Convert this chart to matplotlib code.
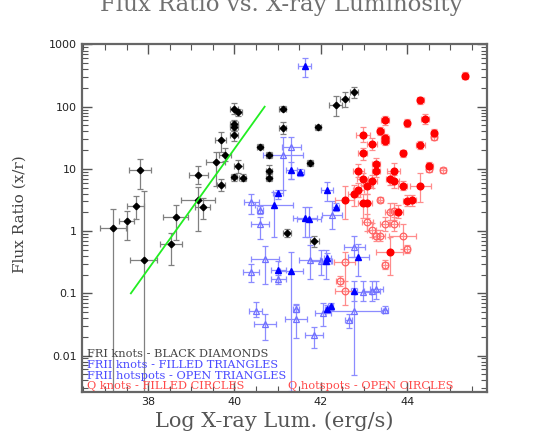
import matplotlib
matplotlib.use("Agg")
import matplotlib.pyplot as plt
import numpy as np
from matplotlib.ticker import FixedLocator, MultipleLocator, LogLocator, NullFormatter, FuncFormatter

# FRI knots (black diamonds): log Lx, ratio, x error, lower y, upper y
fri_x = [37.19, 37.50, 37.71, 37.81, 37.90, 38.53, 38.64, 39.15, 39.26, 39.16, 39.57, 39.68,
         39.78, 39.68, 39.99, 40.09, 39.99, 39.99, 39.99, 40.09, 39.99, 40.19, 40.59, 40.80,
         40.80, 40.80, 41.12, 41.12, 41.74, 41.94, 42.35, 42.55, 42.77, 41.22, 41.85]
fri_y = [1.12, 1.43, 2.55, 9.6, 0.34, 0.61, 1.68, 3.2, 2.48, 8.0, 12.8, 29.5,
         16.7, 5.6, 93, 81, 52, 48, 35, 11.3, 7.3, 7.2, 22.8, 16.6,
         9.2, 7.2, 93, 45, 12.4, 46.6, 108, 133, 170, 0.94, 0.69]
fri_xe = [0.30, 0.18, 0.19, 0.25, 0.31, 0.26, 0.29, 0.39, 0.17, 0.22, 0.22, 0.13,
          0.13, 0.09, 0.09, 0.08, 0.09, 0.09, 0.09, 0.10, 0.08, 0.08, 0.06, 0.08,
          0.08, 0.08, 0.08, 0.08, 0.07, 0.07, 0.15, 0.10, 0.10, 0.10, 0.10]
fri_lo = [0.001, 0.71, 1.58, 4.8, 0.001, 0.29, 0.73, 1.0, 1.58, 5.7, 5.4, 18.5,
          13.5, 4.4, 75, 70, 40, 40, 28, 8.5, 6.3, 6.3, 21, 15,
          7.5, 6.4, 84, 36, 11, 42, 70, 100, 140, 0.8, 0.56]
fri_hi = [2.3, 2.1, 3.7, 14.5, 4.4, 0.94, 2.64, 5.1, 3.4, 11, 18.5, 39.6,
          21.5, 7.0, 115, 92, 62, 58, 42, 14, 8.4, 8.2, 25, 18.5,
          11.5, 8.2, 102, 56, 14, 51, 147, 170, 205, 1.1, 0.84]

# FRII knots (filled triangles)
k2_x = [41.63, 41.32, 41.53, 41.01, 42.14, 40.91, 41.63, 41.73, 42.35, 41.02, 41.32, 42.13,
        42.15, 42.87, 42.15, 42.23, 42.77]
k2_y = [455, 9.7, 8.9, 4.1, 4.5, 2.6, 1.62, 1.57, 2.43, 0.233, 0.228, 0.33,
        0.37, 0.38, 0.057, 0.0625, 0.111]
k2_xe = [0.15, 0.12, 0.07, 0.11, 0.14, 0.44, 0.28, 0.28, 0.08, 0.17, 0.27, 0.10,
         0.08, 0.25, 0.06, 0.06, 0.08]
k2_lo = [305, 6.9, 7.8, 3.3, 3.0, 0.8, 0.8, 0.8, 2.1, 0.155, 0.0027, 0.17,
         0.3, 0.19, 0.05, 0.055, 0.075]
k2_hi = [600, 12.8, 10, 4.6, 6.1, 4.2, 2.45, 2.45, 2.8, 0.33, 0.47, 0.49,
         0.45, 0.63, 0.065, 0.07, 0.16]

# FRII hotspots (open triangles)
h2_x = [41.32, 41.12, 40.39, 40.60, 40.60, 42.25, 40.71, 40.39, 41.02, 41.74, 42.01, 42.78,
        40.49, 40.71, 41.42, 41.42, 41.84, 42.05, 42.77, 43.48, 42.65, 42.98, 43.19, 43.29]
h2_y = [22.3, 16.8, 2.9, 2.2, 1.31, 1.83, 0.36, 0.22, 0.17, 0.34, 0.33, 0.55,
        0.053, 0.0325, 0.057, 0.038, 0.0216, 0.048, 0.053, 0.055, 0.037, 0.107, 0.111, 0.116]
h2_xe = [0.22, 0.46, 0.18, 0.07, 0.21, 0.23, 0.32, 0.19, 0.17, 0.25, 0.25, 0.25,
         0.15, 0.25, 0.07, 0.25, 0.21, 0.19, 0.66, 0.08, 0.08, 0.18, 0.18, 0.15]
h2_lo = [6.9, 4.5, 1.9, 1.9, 0.75, 1.09, 0.143, 0.15, 0.14, 0.17, 0.2, 0.38,
         0.042, 0.0176, 0.05, 0.019, 0.013, 0.030, 0.0049, 0.048, 0.028, 0.075, 0.075, 0.08]
h2_hi = [33, 32, 4.0, 2.5, 1.7, 3.1, 0.57, 0.30, 0.2, 0.59, 0.5, 0.85,
         0.073, 0.047, 0.065, 0.068, 0.029, 0.07, 0.12, 0.063, 0.047, 0.16, 0.16, 0.16]

# Q knots (filled circles)
qk_x = [45.34, 44.31, 43.48, 43.99, 44.41, 43.38, 44.62, 43.48, 43.48, 42.97, 43.18, 44.31,
        42.97, 43.90, 44.51, 43.28, 43.28, 42.87, 43.69, 42.97, 43.18, 43.08, 43.60, 43.69,
        43.90, 44.31, 42.87, 42.77, 42.56, 42.98, 43.07, 44.00, 44.11, 43.80, 43.60]
qk_y = [315, 128, 60, 55, 63, 41, 37.8, 31, 28.5, 35, 25.2, 24.5,
        17.9, 17.9, 11.3, 12.0, 9.4, 9.4, 9.1, 6.9, 6.5, 5.4, 6.9, 6.5,
        5.4, 5.3, 4.65, 4.0, 3.18, 2.85, 2.85, 3.1, 3.18, 2.06, 0.46]
qk_xe = [0.07, 0.07, 0.09, 0.07, 0.09, 0.08, 0.07, 0.09, 0.09, 0.16, 0.12, 0.10,
         0.10, 0.07, 0.08, 0.10, 0.10, 0.12, 0.15, 0.12, 0.12, 0.14, 0.10, 0.12,
         0.10, 0.24, 0.12, 0.14, 0.22, 0.12, 0.12, 0.10, 0.10, 0.10, 0.31]
qk_lo = [280, 112, 50, 48, 53, 35, 33, 26, 24, 26.8, 20, 21,
         14, 15.5, 10, 9.5, 7.5, 7.3, 6.5, 5.5, 5, 4, 5.5, 5,
         4.5, 2.9, 3.5, 2.5, 1.58, 1.6, 1.6, 2.5, 2.5, 1.6, 0.194]
qk_hi = [355, 145, 72, 63, 75, 48, 43, 37, 34, 46.7, 31, 28,
         22, 20.5, 13, 15, 12, 12, 12.5, 8.5, 8, 7, 8.5, 8,
         6.5, 8.5, 6.0, 5.5, 5.4, 4.0, 4.0, 3.8, 3.8, 2.6, 0.8]

# Q hotspots (open circles)
qh_x = [44.51, 44.83, 43.38, 43.60, 43.69, 43.08, 43.49, 43.69, 43.18, 43.28, 43.38, 43.90,
        44.00, 43.49, 42.55, 42.44, 42.55, 44.62]
qh_y = [9.8, 9.6, 3.18, 2.06, 2.14, 1.39, 1.31, 1.31, 1.05, 0.85, 0.85, 0.83,
        0.52, 0.29, 0.32, 0.157, 0.109, 32]
qh_xe = [0.07, 0.07, 0.05, 0.12, 0.12, 0.12, 0.12, 0.12, 0.10, 0.10, 0.10, 0.31,
         0.07, 0.07, 0.25, 0.08, 0.23, 0.07]
qh_lo = [9, 8.7, 2.9, 1.5, 1.5, 1.0, 1.0, 1.0, 0.8, 0.7, 0.7, 0.52,
         0.45, 0.25, 0.11, 0.13, 0.064, 29]
qh_hi = [10.8, 10.5, 3.5, 2.8, 2.8, 1.9, 1.7, 1.7, 1.35, 1.05, 1.05, 1.31,
         0.6, 0.34, 0.46, 0.19, 0.16, 35]

fit_x = [37.6, 40.7]
fit_y = [0.1, 100]

serif = "DejaVu Serif"

fig = plt.figure(figsize=(5.4, 4.36), dpi=100)
ax = fig.add_axes([0.152, 0.101, 0.749, 0.797])


def draw(xs, ys, xe, lo, hi, ecol, **mk):
    ys = np.array(ys)
    yerr = [ys - np.array(lo), np.array(hi) - ys]
    ax.errorbar(xs, ys, xerr=xe, yerr=yerr, fmt="none", ecolor=ecol,
                elinewidth=0.9, capsize=2, capthick=0.9, zorder=2)
    ax.plot(xs, ys, linestyle="none", zorder=3, **mk)


draw(fri_x, fri_y, fri_xe, fri_lo, fri_hi, "#808080",
     marker="D", ms=3.3, color="black")
draw(h2_x, h2_y, h2_xe, h2_lo, h2_hi, "#8c8cff",
     marker="^", ms=3.8, mfc="none", mec="#7070ff", mew=0.9)
draw(k2_x, k2_y, k2_xe, k2_lo, k2_hi, "#8c8cff",
     marker="^", ms=3.8, color="#0000ff")
draw(qh_x, qh_y, qh_xe, qh_lo, qh_hi, "#ff8c8c",
     marker="o", ms=4.8, mfc="none", mec="#ff6060", mew=0.9)
draw(qk_x, qk_y, qk_xe, qk_lo, qk_hi, "#ff8c8c",
     marker="o", ms=4.8, color="#ff0000")

ax.plot(fit_x, fit_y, color="#22ee22", lw=1.3, zorder=4)

ax.set_yscale("log")
ax.set_xlim(36.47, 45.84)
ax.set_ylim(0.0026, 1000)

ax.xaxis.set_major_locator(FixedLocator([38, 40, 42, 44]))
ax.xaxis.set_minor_locator(MultipleLocator(0.5))
ax.yaxis.set_major_locator(FixedLocator([0.01, 0.1, 1, 10, 100, 1000]))
ax.yaxis.set_minor_locator(LogLocator(base=10, subs=np.arange(2, 10)))
ax.yaxis.set_minor_formatter(NullFormatter())
ax.yaxis.set_major_formatter(FuncFormatter(lambda v, p: "%g" % v))

ax.tick_params(which="both", direction="in", top=True, right=True,
               color="#555555", labelsize=8, labelcolor="#222222")
ax.tick_params(which="major", length=7, width=1)
ax.tick_params(which="minor", length=4, width=0.8)
ax.tick_params(axis="x", pad=3.5)
for s in ax.spines.values():
    s.set_color("#666666")
    s.set_linewidth(1.6)

fig.text(0.521, 1 - 11 / 436, "Flux Ratio vs. X-ray Luminosity", ha="center",
         va="baseline", fontsize=16.5, family=serif, color="#707070")
fig.text(0.508, 1 - 427 / 436, "Log X-ray Lum. (erg/s)", ha="center",
         va="baseline", fontsize=15, family=serif, color="#555555")
fig.text(0.037, 0.51, "Flux Ratio (x/r)", ha="center", va="center", rotation=90,
         fontsize=11, family=serif, color="#444444")

leg = [(87, 354, "FRI knots - BLACK DIAMONDS", "#444444"),
       (87, 365, "FRII knots - FILLED TRIANGLES", "#4a4aff"),
       (87, 375.5, "FRII hotspots - OPEN TRIANGLES", "#4a4aff"),
       (87, 386, "Q knots - FILLED CIRCLES", "#ff4a4a"),
       (288, 386, "Q hotspots - OPEN CIRCLES", "#ff4a4a")]
for px, py, txt, col in leg:
    fig.text(px / 540, 1 - py / 436, txt, ha="left", va="center",
             fontsize=8.2, family=serif, color=col)

fig.savefig("out.png", dpi=100)
